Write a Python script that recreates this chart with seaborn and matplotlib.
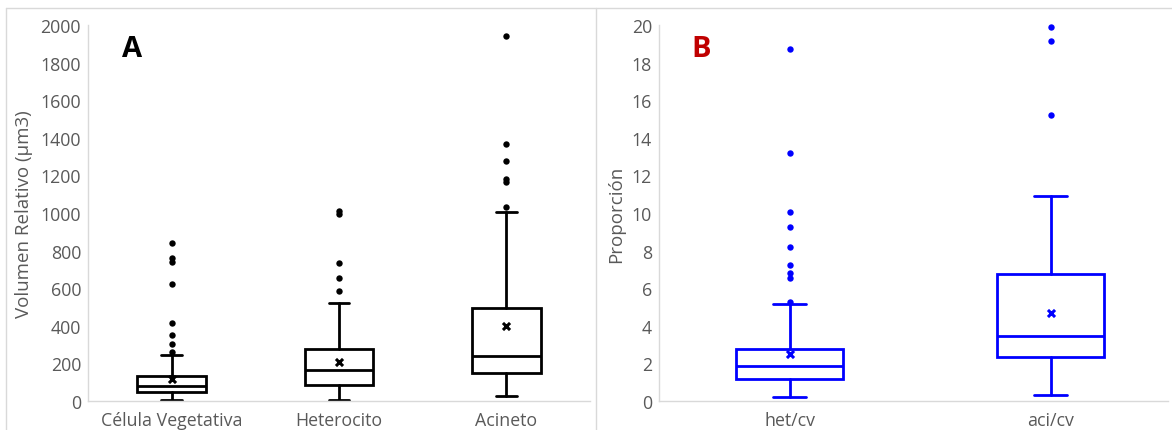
import numpy as np
import pandas as pd
import matplotlib
matplotlib.use("Agg")
import matplotlib.pyplot as plt
import seaborn as sns
from matplotlib.lines import Line2D

# Panel A: volumen relativo por tipo celular
groups_a = ["Célula Vegetativa", "Heterocito", "Acineto"]
q1_a = [48, 87, 149]
med_a = [81, 167, 241]
q3_a = [131, 277, 493]
whislo_a = [5, 4, 27]
whishi_a = [245, 520, 1007]
mean_a = [117, 206, 401]
outliers_a = [
    [840, 762, 738, 624, 415, 349, 304, 260],
    [1010, 995, 732, 652, 587],
    [1940, 1365, 1278, 1181, 1163, 1032],
]

# Panel B: proporciones
groups_b = ["het/cv", "aci/cv"]
q1_b = [1.15, 2.36]
med_b = [1.84, 3.44]
q3_b = [2.78, 6.73]
whislo_b = [0.19, 0.34]
whishi_b = [5.14, 10.88]
mean_b = [2.50, 4.70]
outliers_b = [
    [18.72, 13.17, 10.06, 9.28, 8.20, 7.26, 6.81, 6.55, 5.27],
    [19.88, 19.15, 15.23],
]

sns.set_style("white")
plt.rcParams["font.family"] = ["Open Sans", "DejaVu Sans"]

GRAY = "#595959"
AXIS = "#D9D9D9"


def draw_panel(ax, groups, q1, med, q3, lo, hi, means, outs, color, ymax, step, ylabel):
    stats = []
    for i, g in enumerate(groups):
        stats.append(dict(label=g, q1=q1[i], med=med[i], q3=q3[i],
                          whislo=lo[i], whishi=hi[i], mean=means[i], fliers=[]))
    pos = list(range(len(groups)))
    lw = 2.0
    ax.bxp(stats, positions=pos, widths=0.41, capwidths=0.125, showfliers=False,
           showmeans=False, manage_ticks=False, patch_artist=True,
           boxprops=dict(facecolor="white", edgecolor=color, linewidth=lw),
           medianprops=dict(color=color, linewidth=lw),
           whiskerprops=dict(color=color, linewidth=lw),
           capprops=dict(color=color, linewidth=lw))

    df = pd.DataFrame({
        "grupo": [g for g, o in zip(groups, outs) for _ in o],
        "valor": [v for o in outs for v in o],
    })
    sns.stripplot(data=df, x="grupo", y="valor", order=groups, jitter=False,
                  color=color, size=4.6, linewidth=0, ax=ax, zorder=3)
    for coll in ax.collections:
        coll.set_clip_on(False)
    ax.scatter(pos, means, marker="x", s=26, color=color, linewidths=2.2, zorder=4)

    ax.set_ylim(0, ymax)
    ax.set_yticks(np.arange(0, ymax + step / 2, step))
    ax.set_xticks(pos)
    ax.set_xticklabels(groups)
    ax.set_xlabel("")
    ax.set_ylabel(ylabel, color=GRAY, fontsize=13.5, labelpad=5)
    ax.tick_params(axis="both", colors=GRAY, labelsize=12.8, length=0)
    ax.tick_params(axis="x", pad=7)
    ax.tick_params(axis="y", pad=5)
    for s in ["top", "right"]:
        ax.spines[s].set_visible(False)
    for s in ["left", "bottom"]:
        ax.spines[s].set_color(AXIS)
        ax.spines[s].set_linewidth(1.0)


fig = plt.figure(figsize=(11.72, 4.31), dpi=100)
ax1 = fig.add_axes([88 / 1172, 1 - 402 / 431, (590 - 88) / 1172, (402 - 26) / 431])
ax2 = fig.add_axes([659 / 1172, 1 - 402 / 431, (1168 - 659) / 1172, (402 - 26) / 431])

draw_panel(ax1, groups_a, q1_a, med_a, q3_a, whislo_a, whishi_a, mean_a, outliers_a,
           "black", 2000, 200, "Volumen Relativo (µm3)")
ax1.set_xlim(-0.5, 2.5)

draw_panel(ax2, groups_b, q1_b, med_b, q3_b, whislo_b, whishi_b, mean_b, outliers_b,
           "#0000FF", 20, 2, "Proporción")
ax2.set_xlim(-0.5, 1.45)

ax1.text(0.068, 0.975, "A", transform=ax1.transAxes, fontsize=21, fontweight="bold",
         color="black", va="top", ha="left")
ax2.text(0.064, 0.975, "B", transform=ax2.transAxes, fontsize=21, fontweight="bold",
         color="#C00000", va="top", ha="left")

# panel frames
top = 1 - 9 / 431
fig.add_artist(Line2D([6 / 1172, 1], [top, top], color=AXIS, lw=1, transform=fig.transFigure))
fig.add_artist(Line2D([6 / 1172, 6 / 1172], [0, top], color=AXIS, lw=1, transform=fig.transFigure))
fig.add_artist(Line2D([596 / 1172, 596 / 1172], [0, top], color=AXIS, lw=1, transform=fig.transFigure))

fig.savefig("out.png", dpi=100)
